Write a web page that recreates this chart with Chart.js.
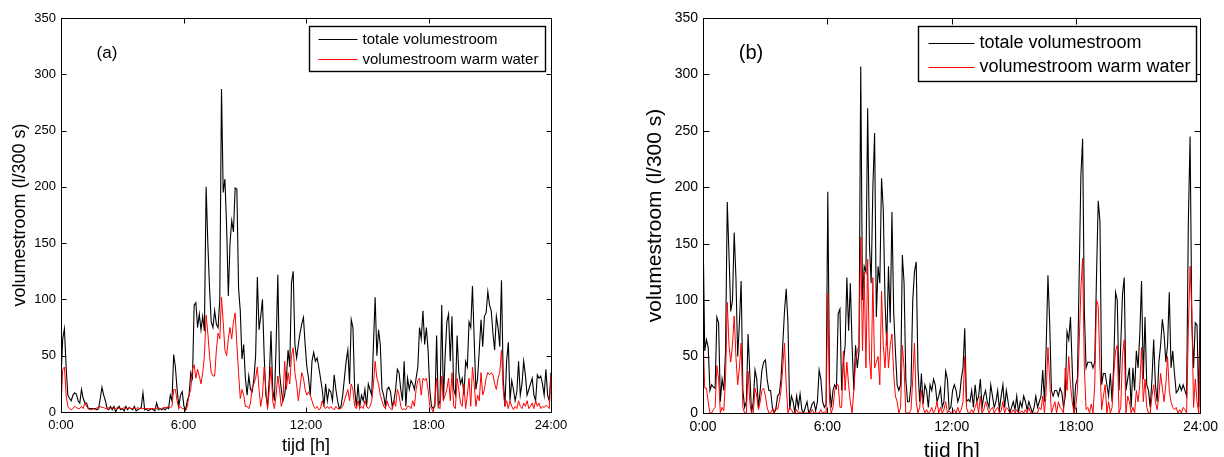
<!DOCTYPE html>
<html><head><meta charset="utf-8">
<script src="https://cdn.jsdelivr.net/npm/chart.js@4.4.0/dist/chart.umd.min.js"></script>
<style>
html,body{margin:0;padding:0;background:#fff;overflow:hidden;width:1224px;height:457px;}
.wrap{position:absolute;top:0;width:612px;height:470px;}
#wa{left:0;} #wb{left:612px;}
canvas{display:block;}
</style></head><body>
<div id="wa" class="wrap"><canvas id="ca" width="612" height="470"></canvas></div>
<div id="wb" class="wrap"><canvas id="cb" width="612" height="470"></canvas></div>
<script>
const tickLabelsX = ['0:00','6:00','12:00','18:00','24:00'];
const tickLabelsY = ['0','50','100','150','200','250','300','350'];
const seriesNames = ['totale volumestroom','volumestroom warm water'];
const panelLabels = ['(a)','(b)'];
const xTitle = 'tijd [h]';
const yTitle = 'volumestroom (l/300 s)';

const aTotal = [
30,65,74,40,15,12,10,15,17,16,10,8,
20,12,8,8,3,3,3,3,3,2,3,12,
22,15,10,3,2,5,2,5,0,3,5,2,
3,1,5,2,4,3,2,5,1,2,3,4,
17,2,3,1,2,3,2,1,8,2,3,2,
3,2,4,3,15,10,51,40,20,5,15,18,
5,2,10,15,35,30,95,97,75,87,73,85,
72,200,150,110,80,75,90,78,75,100,287,195,
207,165,103,150,170,160,199,198,110,90,47,60,
30,15,32,20,18,30,50,120,73,85,100,50,
15,5,30,72,20,10,60,122,35,20,10,15,
30,55,40,115,125,60,48,60,70,78,84,60,
40,30,15,45,53,45,48,40,30,20,5,25,
10,20,18,10,33,20,10,3,5,15,30,45,
55,25,82,75,20,5,25,5,15,10,20,5,
25,20,15,60,102,50,73,60,20,15,5,20,
22,18,5,10,20,38,35,20,10,45,5,30,
20,28,25,20,30,40,75,65,90,60,75,55,
20,5,3,5,68,5,10,95,10,50,80,87,
45,85,20,15,68,35,25,30,15,45,40,80,
75,112,65,20,30,55,82,58,85,88,107,95,
90,70,55,85,75,58,117,30,5,45,62,10,
28,20,10,18,45,15,25,45,33,15,20,25,
30,15,10,33,30,32,25,15,38,15,10,35];

const aWarm = [
5,38,40,15,5,3,2,3,5,4,3,3,
5,3,8,5,3,2,2,3,2,4,3,5,
4,4,3,3,4,3,4,3,3,4,3,3,
3,4,3,3,4,3,3,3,3,4,3,3,
3,3,3,3,3,3,3,3,3,4,3,3,
4,4,4,5,4,5,20,20,10,3,5,3,
3,1,5,15,20,38,42,30,38,32,25,35,
50,86,70,50,35,32,32,55,70,65,102,80,
55,50,65,75,65,80,88,60,35,12,20,15,
5,5,3,8,22,25,30,40,20,5,15,40,
20,3,20,40,10,3,15,32,20,5,10,45,
20,35,25,50,57,35,25,10,22,35,30,20,
15,18,15,10,5,3,5,2,3,10,5,3,
5,3,5,3,2,5,3,3,3,5,10,15,
20,10,25,20,5,3,10,3,5,3,10,5,
3,5,10,25,45,30,25,15,10,5,3,10,
5,3,2,10,5,20,15,5,2,3,2,5,
5,3,10,5,20,28,30,15,30,28,30,20,
5,3,0,10,30,5,3,32,10,15,20,30,
10,35,5,3,30,20,8,5,25,3,15,30,
5,40,25,5,15,10,35,15,20,30,35,33,
35,33,25,20,30,35,55,20,5,10,3,10,
5,2,5,3,10,5,3,8,5,10,3,5,
8,3,10,5,8,3,5,4,6,5,3,33];

const bTotal = [
165,55,65,58,20,25,23,22,85,80,10,30,
20,55,187,140,90,100,160,120,50,80,117,20,
5,10,70,35,0,10,38,30,5,20,38,45,
47,30,20,20,5,0,3,15,17,30,60,90,
110,80,3,15,10,0,15,5,17,3,0,5,
10,0,3,8,10,2,10,38,30,10,5,8,
196,25,5,20,25,22,88,92,20,45,60,120,
73,115,60,20,60,40,55,307,100,130,125,270,
150,115,200,248,85,130,115,208,180,100,60,130,
80,178,90,55,25,20,25,140,115,30,10,10,
25,100,125,134,40,10,35,8,25,20,5,25,
20,30,25,10,15,22,5,10,37,30,3,5,
20,25,20,10,15,30,40,75,10,12,10,20,
5,25,10,15,30,5,15,20,10,5,25,15,
5,10,20,3,15,25,5,20,10,0,5,10,
3,15,0,10,5,15,10,3,10,5,0,5,
15,5,10,15,38,10,60,122,80,20,15,20,
20,15,22,18,5,15,72,65,85,40,0,25,
30,120,210,243,90,40,45,45,45,40,45,120,
188,170,25,35,35,25,15,35,10,45,107,100,
20,60,105,120,20,30,40,5,40,20,55,40,
70,117,30,85,25,20,5,30,65,25,10,45,
60,83,70,45,60,107,40,55,35,18,20,25,
20,25,20,15,170,245,80,40,80,78,5,120];

const bWarm = [
73,22,22,10,0,0,3,5,42,30,0,5,
2,30,98,60,45,60,86,50,25,40,62,5,
0,0,37,10,0,0,22,15,3,10,20,22,
15,5,0,0,3,0,5,3,10,20,40,62,
25,0,5,3,0,0,3,0,1,0,0,0,
0,0,0,3,0,0,0,0,3,0,1,0,
106,10,0,5,20,25,25,5,5,55,20,45,
25,10,0,20,45,55,60,156,55,125,40,136,
50,30,120,40,45,50,25,108,60,40,72,40,
60,70,35,15,10,0,5,60,40,0,0,0,
3,30,62,10,0,5,20,5,0,3,0,1,
5,0,3,10,0,5,0,3,10,0,2,0,
0,3,0,5,0,3,10,50,5,0,0,3,
0,5,10,0,15,0,3,10,5,0,3,5,
0,3,5,0,2,10,0,5,3,0,0,3,
0,3,0,0,2,0,3,0,5,0,0,0,
0,0,5,3,15,0,20,58,30,0,5,10,
0,10,5,3,0,40,20,50,25,10,0,5,
20,60,110,137,40,3,5,0,8,0,25,100,
95,40,3,15,25,0,10,0,5,35,55,60,
0,5,50,65,0,15,10,0,5,0,20,10,
25,58,10,30,5,0,0,15,25,10,3,15,
35,22,10,25,50,20,10,5,3,5,0,3,
0,5,3,0,75,130,90,5,30,10,0,70];

const seriesColors = ['#000000','#ff0000'];
const FONT = '"Liberation Sans", Arial, Helvetica, sans-serif';

const framePlugin = {
  id: 'frame',
  afterDatasetsDraw(chart, args, o) {
    const {ctx, chartArea: a, scales: {x, y}} = chart;
    ctx.save();
    ctx.strokeStyle = '#000';
    ctx.lineWidth = 1;
    const L = Math.round(a.left) + 0.5, R = Math.round(a.right) + 0.5;
    const T = Math.round(a.top) + 0.5, B = Math.round(a.bottom) + 0.5;
    ctx.strokeRect(L, T, R - L, B - T);
    ctx.beginPath();
    y.ticks.forEach(t => {
      const py = Math.round(y.getPixelForValue(t.value)) + 0.5;
      ctx.moveTo(L, py); ctx.lineTo(L + o.tick, py);
      ctx.moveTo(R, py); ctx.lineTo(R - o.tick, py);
    });
    x.ticks.forEach(t => {
      const px = Math.round(x.getPixelForValue(t.value)) + 0.5;
      ctx.moveTo(px, T); ctx.lineTo(px, T + o.tick);
      ctx.moveTo(px, B); ctx.lineTo(px, B - o.tick);
    });
    ctx.stroke();
    ctx.fillStyle = '#000';
    ctx.font = o.labelSize + 'px ' + FONT;
    ctx.textAlign = 'center';
    ctx.textBaseline = 'middle';
    ctx.fillText(o.label, a.left + o.labelDx, a.top + o.labelDy);
    const bx = Math.round(a.right - o.legRight - o.legW) + 0.5;
    const by = Math.round(a.top + o.legTop) + 0.5;
    ctx.fillStyle = '#fff';
    ctx.fillRect(bx, by, o.legW, o.legH);
    ctx.lineWidth = 1.4;
    ctx.strokeStyle = '#000';
    ctx.strokeRect(bx, by, o.legW, o.legH);
    ctx.font = o.legSize + 'px ' + FONT;
    ctx.textAlign = 'left';
    seriesNames.forEach((name, i) => {
      const ry = Math.round(by + o.rowY[i]) + 0.5;
      ctx.strokeStyle = seriesColors[i];
      ctx.lineWidth = 1;
      ctx.beginPath();
      ctx.moveTo(bx + o.lineX0, ry); ctx.lineTo(bx + o.lineX1, ry);
      ctx.stroke();
      ctx.fillStyle = '#000';
      ctx.fillText(name, bx + o.textX, ry);
    });
    ctx.restore();
  }
};

function makeChart(id, total, warm, st) {
  const n = total.length;
  const xs = total.map((_, i) => i * 24 / (n - 1));
  return new Chart(document.getElementById(id), {
    type: 'line',
    data: {
      labels: xs,
      datasets: [
        {label: seriesNames[0], data: total, borderColor: seriesColors[0], borderWidth: 1.1, pointRadius: 0, tension: 0, order: 1},
        {label: seriesNames[1], data: warm, borderColor: seriesColors[1], borderWidth: 1, pointRadius: 0, tension: 0, order: 0}
      ]
    },
    options: {
      responsive: false,
      animation: false,
      events: [],
      layout: {padding: {left: 0, top: 18, right: st.padRight, bottom: 0}},
      plugins: {
        legend: {display: false},
        tooltip: {enabled: false},
        frame: st.frame
      },
      scales: {
        x: {
          type: 'linear', min: 0, max: 24, offset: false,
          grid: {display: false, drawTicks: false},
          border: {display: false},
          ticks: {stepSize: 6, autoSkip: false, maxRotation: 0, padding: st.xPad, color: '#000',
                  font: {family: FONT, size: st.tickSize},
                  callback: v => tickLabelsX[Math.round(v / 6)]},
          title: {display: true, text: xTitle, color: '#000', font: {family: FONT, size: st.titleSize},
                  padding: {top: 0, bottom: st.xTitlePad}},
          afterFit: s => { s.height = st.xH; }
        },
        y: {
          min: 0, max: 350,
          grid: {display: false, drawTicks: false},
          border: {display: false},
          ticks: {stepSize: 50, padding: 5, color: '#000', font: {family: FONT, size: st.tickSize},
                  callback: v => tickLabelsY[Math.round(v / 50)]},
          title: {display: true, text: yTitle, color: '#000', font: {family: FONT, size: st.titleSize},
                  padding: {top: st.yTitlePad, bottom: 0}},
          afterFit: s => { s.width = st.yW; }
        }
      }
    },
    plugins: [framePlugin]
  });
}

makeChart('ca', aTotal, aWarm, {
  padRight: 61, yW: 61, xH: 58, tickSize: 13, titleSize: 18, xPad: 6, xTitlePad: 13, yTitlePad: 9,
  frame: {tick: 5, label: panelLabels[0], labelSize: 17, labelDx: 46, labelDy: 35,
          legRight: 6, legW: 236, legTop: 8, legH: 45, rowY: [12, 32],
          lineX0: 9, lineX1: 48, textX: 53, legSize: 15}
});
makeChart('cb', bTotal, bWarm, {
  padRight: 20, yW: 91, xH: 57, tickSize: 14, titleSize: 21, xPad: 6, xTitlePad: 6, yTitlePad: 31,
  frame: {tick: 6, label: panelLabels[1], labelSize: 20, labelDx: 48, labelDy: 35,
          legRight: 4, legW: 278, legTop: 8, legH: 55, rowY: [16, 40],
          lineX0: 10, lineX1: 56, textX: 61, legSize: 18}
});
</script>
</body></html>
